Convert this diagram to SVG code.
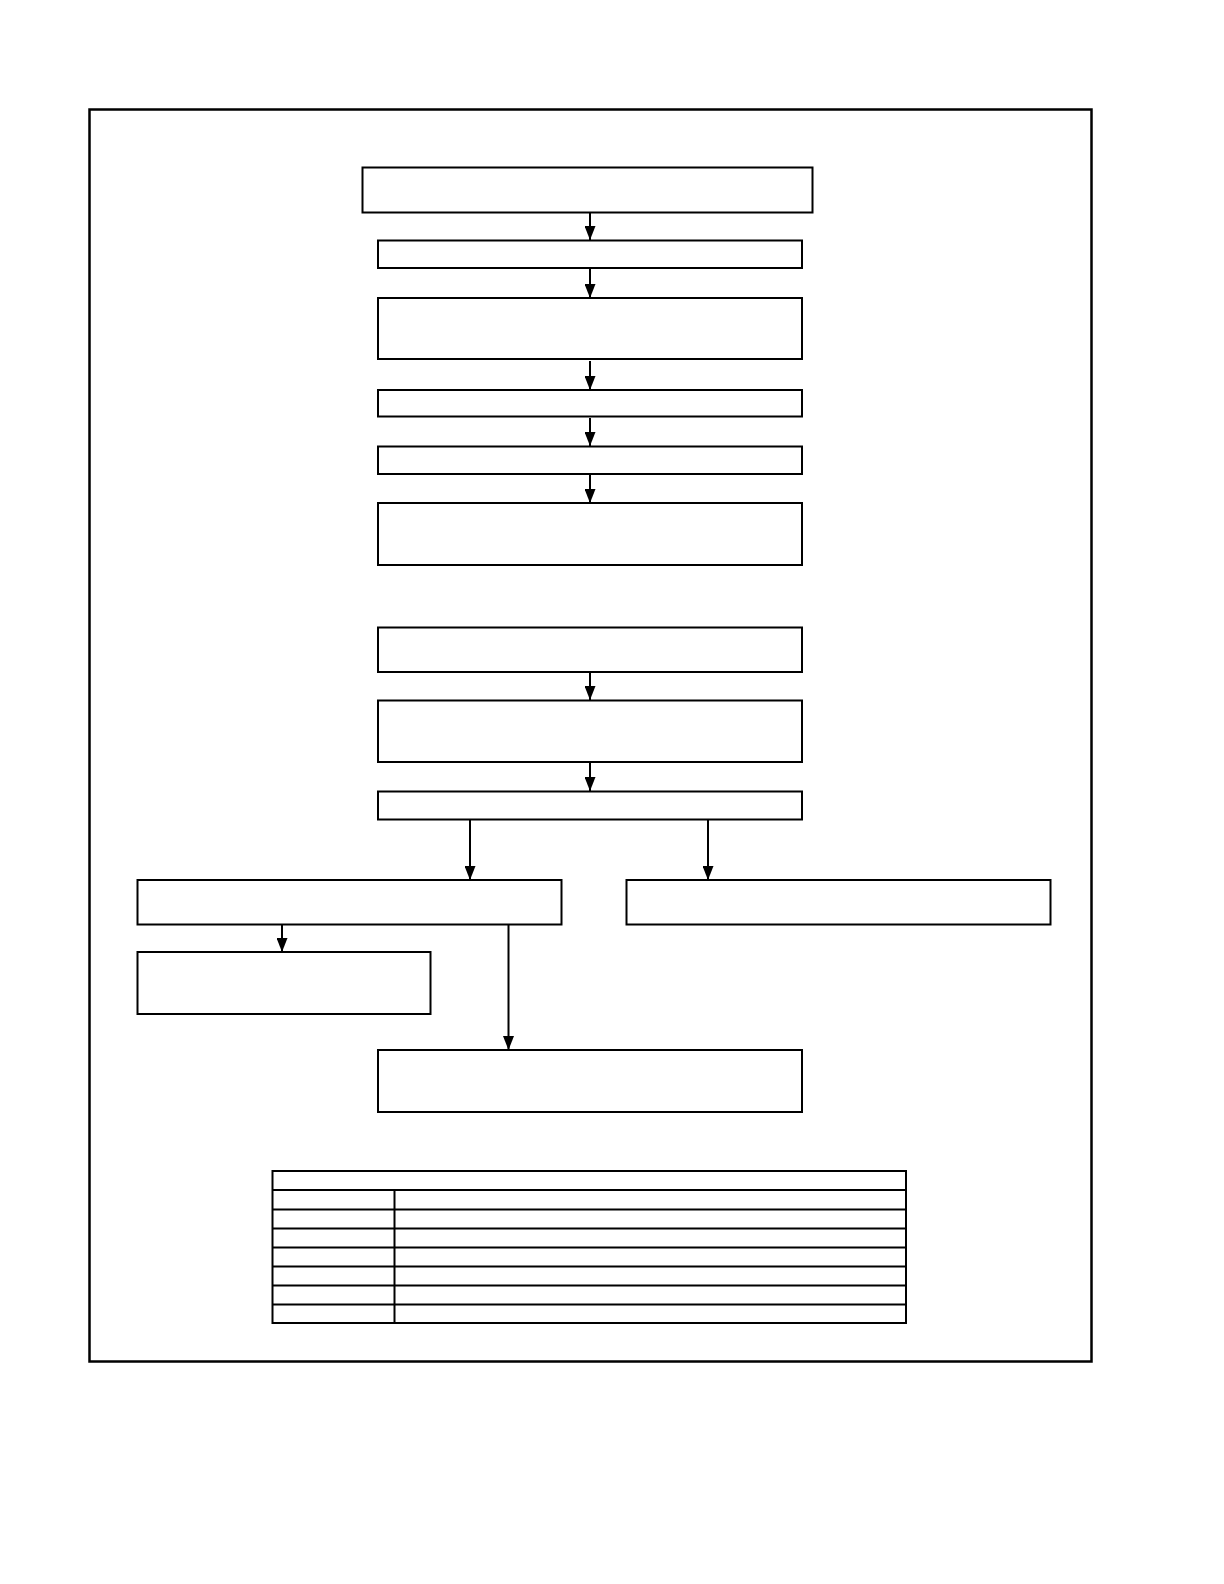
<svg xmlns="http://www.w3.org/2000/svg" width="1224" height="1584" viewBox="0 0 1224 1584">
<style>
.b{fill:#fff;stroke:#000;stroke-width:2}
.c{fill:none;stroke:#000;stroke-width:2}
.t{fill:none;stroke:#000;stroke-width:2}
</style>
<defs>
<marker id="a" markerUnits="userSpaceOnUse" markerWidth="14" markerHeight="11" refX="14" refY="5.5" orient="auto" viewBox="0 0 14 11">
<path d="M0,0 L14,5.5 L0,11 Z" fill="#000"/>
</marker>
</defs>
<rect x="0" y="0" width="1224" height="1584" fill="#fff"/>
<rect id="frame" x="89.5" y="109.5" width="1002" height="1252" fill="none" stroke="#000" stroke-width="2.5"/>
<g id="connectors">
<line class="c" x1="590" y1="212" x2="590" y2="240" marker-end="url(#a)"/>
<line class="c" x1="590" y1="268" x2="590" y2="298" marker-end="url(#a)"/>
<line class="c" x1="590" y1="361" x2="590" y2="390" marker-end="url(#a)"/>
<line class="c" x1="590" y1="418" x2="590" y2="446" marker-end="url(#a)"/>
<line class="c" x1="590" y1="474" x2="590" y2="503" marker-end="url(#a)"/>
<line class="c" x1="590" y1="672" x2="590" y2="700" marker-end="url(#a)"/>
<line class="c" x1="590" y1="762" x2="590" y2="791" marker-end="url(#a)"/>
<line class="c" x1="470" y1="819" x2="470" y2="880" marker-end="url(#a)"/>
<line class="c" x1="708" y1="819" x2="708" y2="880" marker-end="url(#a)"/>
<line class="c" x1="282" y1="924" x2="282" y2="952" marker-end="url(#a)"/>
<line class="c" x1="508.5" y1="924" x2="508.5" y2="1050" marker-end="url(#a)"/>
</g>
<g id="n1"><rect class="b" x="362.5" y="167.5" width="450" height="45"/></g>
<g id="n2"><rect class="b" x="378" y="240.5" width="424" height="27.5"/></g>
<g id="n3"><rect class="b" x="378" y="298" width="424" height="61"/></g>
<g id="n4"><rect class="b" x="378" y="390" width="424" height="26.5"/></g>
<g id="n5"><rect class="b" x="378" y="446.5" width="424" height="27.5"/></g>
<g id="n6"><rect class="b" x="378" y="503" width="424" height="62"/></g>
<g id="n7"><rect class="b" x="378" y="627.5" width="424" height="44.5"/></g>
<g id="n8"><rect class="b" x="378" y="700.5" width="424" height="61.5"/></g>
<g id="n9"><rect class="b" x="378" y="791.5" width="424" height="28"/></g>
<g id="n10"><rect class="b" x="137.5" y="880" width="424" height="44.5"/></g>
<g id="n11"><rect class="b" x="626.5" y="880" width="424" height="44.5"/></g>
<g id="n12"><rect class="b" x="137.5" y="952" width="293" height="62"/></g>
<g id="n13"><rect class="b" x="378" y="1050" width="424" height="62"/></g>
<g id="table">
<rect class="t" x="272.5" y="1171" width="633.5" height="152"/>
<line class="t" x1="272.5" y1="1190" x2="906" y2="1190"/>
<line class="t" x1="272.5" y1="1209.5" x2="906" y2="1209.5"/>
<line class="t" x1="272.5" y1="1228.5" x2="906" y2="1228.5"/>
<line class="t" x1="272.5" y1="1247.5" x2="906" y2="1247.5"/>
<line class="t" x1="272.5" y1="1266.5" x2="906" y2="1266.5"/>
<line class="t" x1="272.5" y1="1285.5" x2="906" y2="1285.5"/>
<line class="t" x1="272.5" y1="1304.5" x2="906" y2="1304.5"/>
<line class="t" x1="394.5" y1="1190" x2="394.5" y2="1323"/>
</g>
</svg>
